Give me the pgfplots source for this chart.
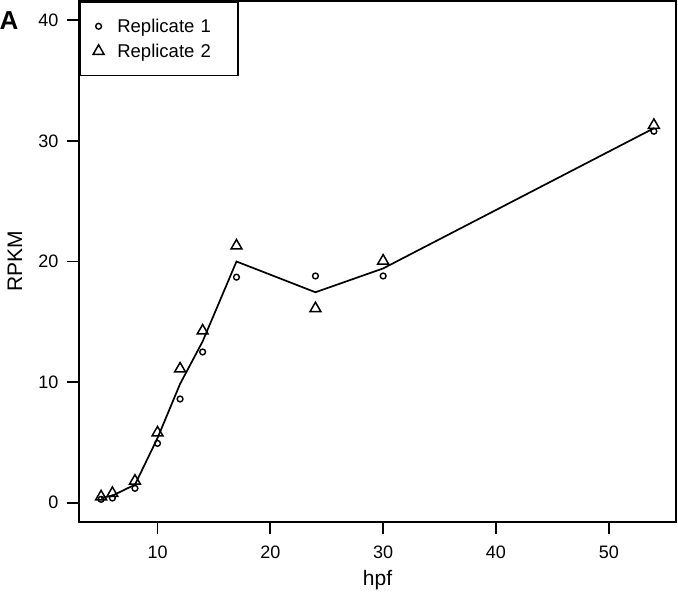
\documentclass[border=0pt]{standalone}
\usepackage{fontspec}
\setmainfont{Liberation Sans}
\usepackage{pgfplots}
\usepackage{pgfplotstable}
\pgfplotsset{compat=1.18}

\pgfplotstableread{
x r1 r2 m
5 0.28 0.50 0.39
6 0.39 0.78 0.585
8 1.19 1.80 1.495
10 4.92 5.80 5.36
12 8.60 11.10 9.85
14 12.50 14.25 13.375
17 18.70 21.30 20.00
24 18.80 16.10 17.45
30 18.80 20.05 19.425
54 30.80 31.30 31.05
}\data

\begin{document}
\begin{tikzpicture}
\begin{axis}[
  name=ax,
  scale only axis,
  width=597bp, height=521bp,
  xmin=3.04, xmax=55.96, ymin=-1.6, ymax=41.6,
  xtick={10,20,30,40,50}, ytick={0,10,20,30,40},
  tick pos=left, tick align=outside, major tick length=12bp,
  axis line style={line width=1.7bp},
  every tick/.style={black, line width=1.7bp},
  tick label style={font=\fontsize{18bp}{21bp}\selectfont},
  xticklabel style={yshift=-8bp},
  yticklabel style={xshift=-5bp},
  /pgf/number format/assume math mode=true,
  xlabel={hpf}, ylabel={RPKM},
  every axis x label/.style={at={(axis description cs:0.5,-0.1113)}, anchor=center, font=\fontsize{21bp}{24bp}\selectfont},
  every axis y label/.style={at={(axis description cs:-0.1072,0.5)}, rotate=90, anchor=center, font=\fontsize{21bp}{24bp}\selectfont},
  legend cell align=left,
  legend style={at={(axis description cs:0,1)}, anchor=north west,
    draw=black, line width=1.7bp, font=\fontsize{18.5bp}{22bp}\selectfont,
    inner xsep=2bp, inner ysep=15bp, row sep=6bp,
    /tikz/every even column/.append style={text width=117bp}},
  legend image code/.code={\draw[#1] plot coordinates {(16bp,0bp)}; \path (0bp,0bp) (32bp,0bp);},
]
\addplot[black, line width=1.7bp, forget plot] table[x=x,y=m]{\data};
\addplot[only marks, mark=o, mark size=2.9bp, black, line width=1.4bp] table[x=x,y=r1]{\data};
\addlegendentry{Replicate 1}
\addplot[only marks, mark=triangle, mark size=6.3bp, black, line width=1.5bp] table[x=x,y=r2]{\data};
\addlegendentry{Replicate 2}
\end{axis}
\node[font=\bfseries\fontsize{26bp}{30bp}\selectfont] at ([xshift=-70bp,yshift=-20bp]ax.north west) {A};
\pgfresetboundingbox
\path[use as bounding box] ([xshift=-79bp,yshift=-73bp]ax.south west) rectangle ([xshift=2bp,yshift=1bp]ax.north east);
\end{tikzpicture}
\end{document}
